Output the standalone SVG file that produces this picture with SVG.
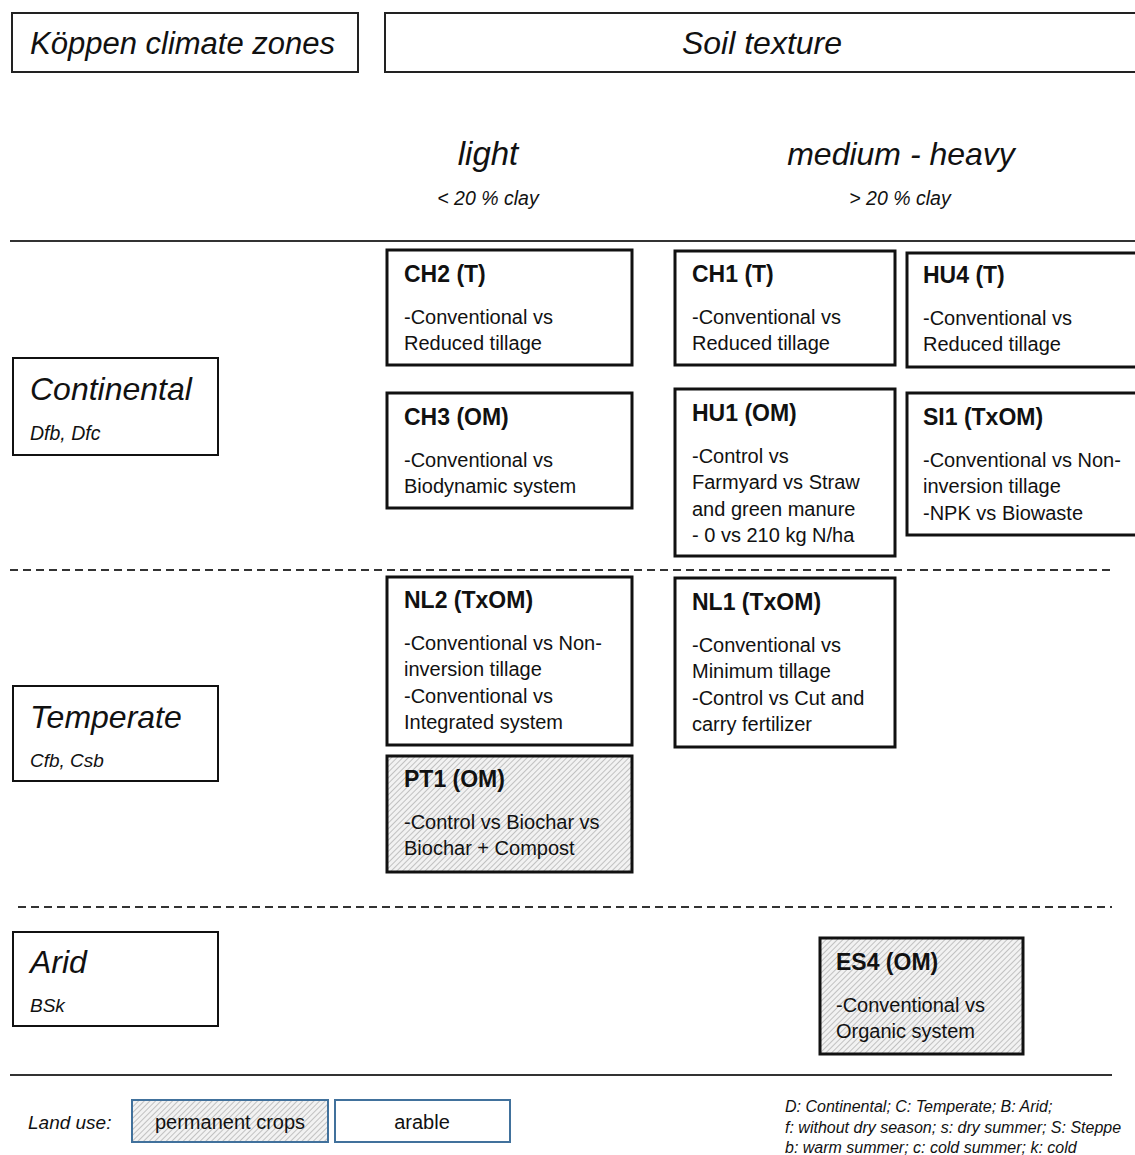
<svg xmlns="http://www.w3.org/2000/svg" width="1135" height="1155" viewBox="0 0 1135 1155">
<style>
text{font-family:"Liberation Sans",Arial,sans-serif;fill:#111}
.hdr{fill:#fff;stroke:#222;stroke-width:2}
.it{font-style:italic}
.zone{fill:#fff;stroke:#111;stroke-width:2}
.node{fill:#fff;stroke:#111;stroke-width:3}
.hatch{fill:url(#hatch);stroke:#111;stroke-width:3}
.ttl{font-size:23px;font-weight:bold}
.bd{font-size:20px}
.sep{stroke:#333;stroke-width:2;fill:none}
.dash{stroke:#333;stroke-width:2;fill:none;stroke-dasharray:8 5}
.leg{stroke:#41719c;stroke-width:2}
</style>
<defs>
<pattern id="hatch" patternUnits="userSpaceOnUse" width="4" height="4" patternTransform="rotate(45)">
<rect width="4" height="4" fill="#f2f2f2"/>
<line x1="0" y1="0" x2="0" y2="4" stroke="#a0a0a0" stroke-width="1.2"/>
</pattern>
</defs>
<rect width="1135" height="1155" fill="#fff"/>

<g id="header-koppen">
<rect class="hdr" x="12" y="13" width="346" height="59"/>
<text class="it" x="30" y="54" font-size="31">Köppen climate zones</text>
</g>
<g id="header-soil">
<rect class="hdr" x="385" y="13" width="760" height="59"/>
<text class="it" x="762" y="54" font-size="32" text-anchor="middle">Soil texture</text>
</g>
<g id="col-light">
<text class="it" x="488" y="165" font-size="33" text-anchor="middle">light</text>
<text class="it" x="488" y="205" font-size="19.5" text-anchor="middle">&lt; 20 % clay</text>
</g>
<g id="col-heavy">
<text class="it" x="901" y="165" font-size="32" text-anchor="middle">medium - heavy</text>
<text class="it" x="900" y="205" font-size="19.5" text-anchor="middle">&gt; 20 % clay</text>
</g>

<g id="connectors">
<line class="sep" x1="10" y1="241" x2="1135" y2="241"/>
<line class="dash" x1="10" y1="570" x2="1115" y2="570"/>
<line class="dash" x1="18" y1="907" x2="1112" y2="907"/>
<line class="sep" x1="10" y1="1075" x2="1112" y2="1075"/>
</g>

<g id="zone-continental">
<rect class="zone" x="13" y="358" width="205" height="97"/>
<text class="it" x="30" y="400" font-size="32">Continental</text>
<text class="it" x="30" y="440" font-size="19.5">Dfb, Dfc</text>
</g>
<g id="zone-temperate">
<rect class="zone" x="13" y="686" width="205" height="95"/>
<text class="it" x="30" y="728" font-size="32">Temperate</text>
<text class="it" x="30" y="767" font-size="19">Cfb, Csb</text>
</g>
<g id="zone-arid">
<rect class="zone" x="13" y="932" width="205" height="94"/>
<text class="it" x="30" y="973" font-size="32">Arid</text>
<text class="it" x="30" y="1012" font-size="19">BSk</text>
</g>

<g id="CH2">
<rect class="node" x="387" y="250" width="245" height="115"/>
<text class="ttl" x="404" y="282">CH2 (T)</text>
<text class="bd" x="404" y="324">-Conventional vs</text>
<text class="bd" x="404" y="350">Reduced tillage</text>
</g>
<g id="CH1">
<rect class="node" x="675" y="251" width="220" height="114"/>
<text class="ttl" x="692" y="282">CH1 (T)</text>
<text class="bd" x="692" y="324">-Conventional vs</text>
<text class="bd" x="692" y="350">Reduced tillage</text>
</g>
<g id="HU4">
<rect class="node" x="907" y="253" width="240" height="114"/>
<text class="ttl" x="923" y="283">HU4 (T)</text>
<text class="bd" x="923" y="325">-Conventional vs</text>
<text class="bd" x="923" y="351">Reduced tillage</text>
</g>
<g id="CH3">
<rect class="node" x="387" y="393" width="245" height="115"/>
<text class="ttl" x="404" y="425">CH3 (OM)</text>
<text class="bd" x="404" y="467">-Conventional vs</text>
<text class="bd" x="404" y="493">Biodynamic system</text>
</g>
<g id="HU1">
<rect class="node" x="675" y="389" width="220" height="167"/>
<text class="ttl" x="692" y="421">HU1 (OM)</text>
<text class="bd" x="692" y="463">-Control vs</text>
<text class="bd" x="692" y="489">Farmyard vs Straw</text>
<text class="bd" x="692" y="516">and green manure</text>
<text class="bd" x="692" y="542">- 0 vs 210 kg N/ha</text>
</g>
<g id="SI1">
<rect class="node" x="907" y="393" width="240" height="142"/>
<text class="ttl" x="923" y="425">SI1 (TxOM)</text>
<text class="bd" x="923" y="467">-Conventional vs Non-</text>
<text class="bd" x="923" y="493">inversion tillage</text>
<text class="bd" x="923" y="520">-NPK vs Biowaste</text>
</g>
<g id="NL2">
<rect class="node" x="387" y="577" width="245" height="168"/>
<text class="ttl" x="404" y="608">NL2 (TxOM)</text>
<text class="bd" x="404" y="650">-Conventional vs Non-</text>
<text class="bd" x="404" y="676">inversion tillage</text>
<text class="bd" x="404" y="703">-Conventional vs</text>
<text class="bd" x="404" y="729">Integrated system</text>
</g>
<g id="NL1">
<rect class="node" x="675" y="578" width="220" height="169"/>
<text class="ttl" x="692" y="610">NL1 (TxOM)</text>
<text class="bd" x="692" y="652">-Conventional vs</text>
<text class="bd" x="692" y="678">Minimum tillage</text>
<text class="bd" x="692" y="705">-Control vs Cut and</text>
<text class="bd" x="692" y="731">carry fertilizer</text>
</g>
<g id="PT1">
<rect class="hatch" x="387" y="756" width="245" height="116"/>
<text class="ttl" x="404" y="787">PT1 (OM)</text>
<text class="bd" x="404" y="829">-Control vs Biochar vs</text>
<text class="bd" x="404" y="855">Biochar + Compost</text>
</g>
<g id="ES4">
<rect class="hatch" x="820" y="938" width="203" height="116"/>
<text class="ttl" x="836" y="970">ES4 (OM)</text>
<text class="bd" x="836" y="1012">-Conventional vs</text>
<text class="bd" x="836" y="1038">Organic system</text>
</g>

<g id="legend">
<text class="it" x="28" y="1129" font-size="19">Land use:</text>
<rect class="leg" x="132" y="1100" width="196" height="42" fill="url(#hatch)"/>
<text x="230" y="1129" font-size="20" text-anchor="middle">permanent crops</text>
<rect class="leg" x="335" y="1100" width="175" height="42" fill="#fff"/>
<text x="422" y="1129" font-size="20" text-anchor="middle">arable</text>
</g>
<g id="footnote">
<text class="it" x="785" y="1112" font-size="16">D: Continental; C: Temperate; B: Arid;</text>
<text class="it" x="785" y="1133" font-size="16">f: without dry season; s: dry summer; S: Steppe</text>
<text class="it" x="785" y="1153" font-size="16">b: warm summer; c: cold summer; k: cold</text>
</g>
</svg>
